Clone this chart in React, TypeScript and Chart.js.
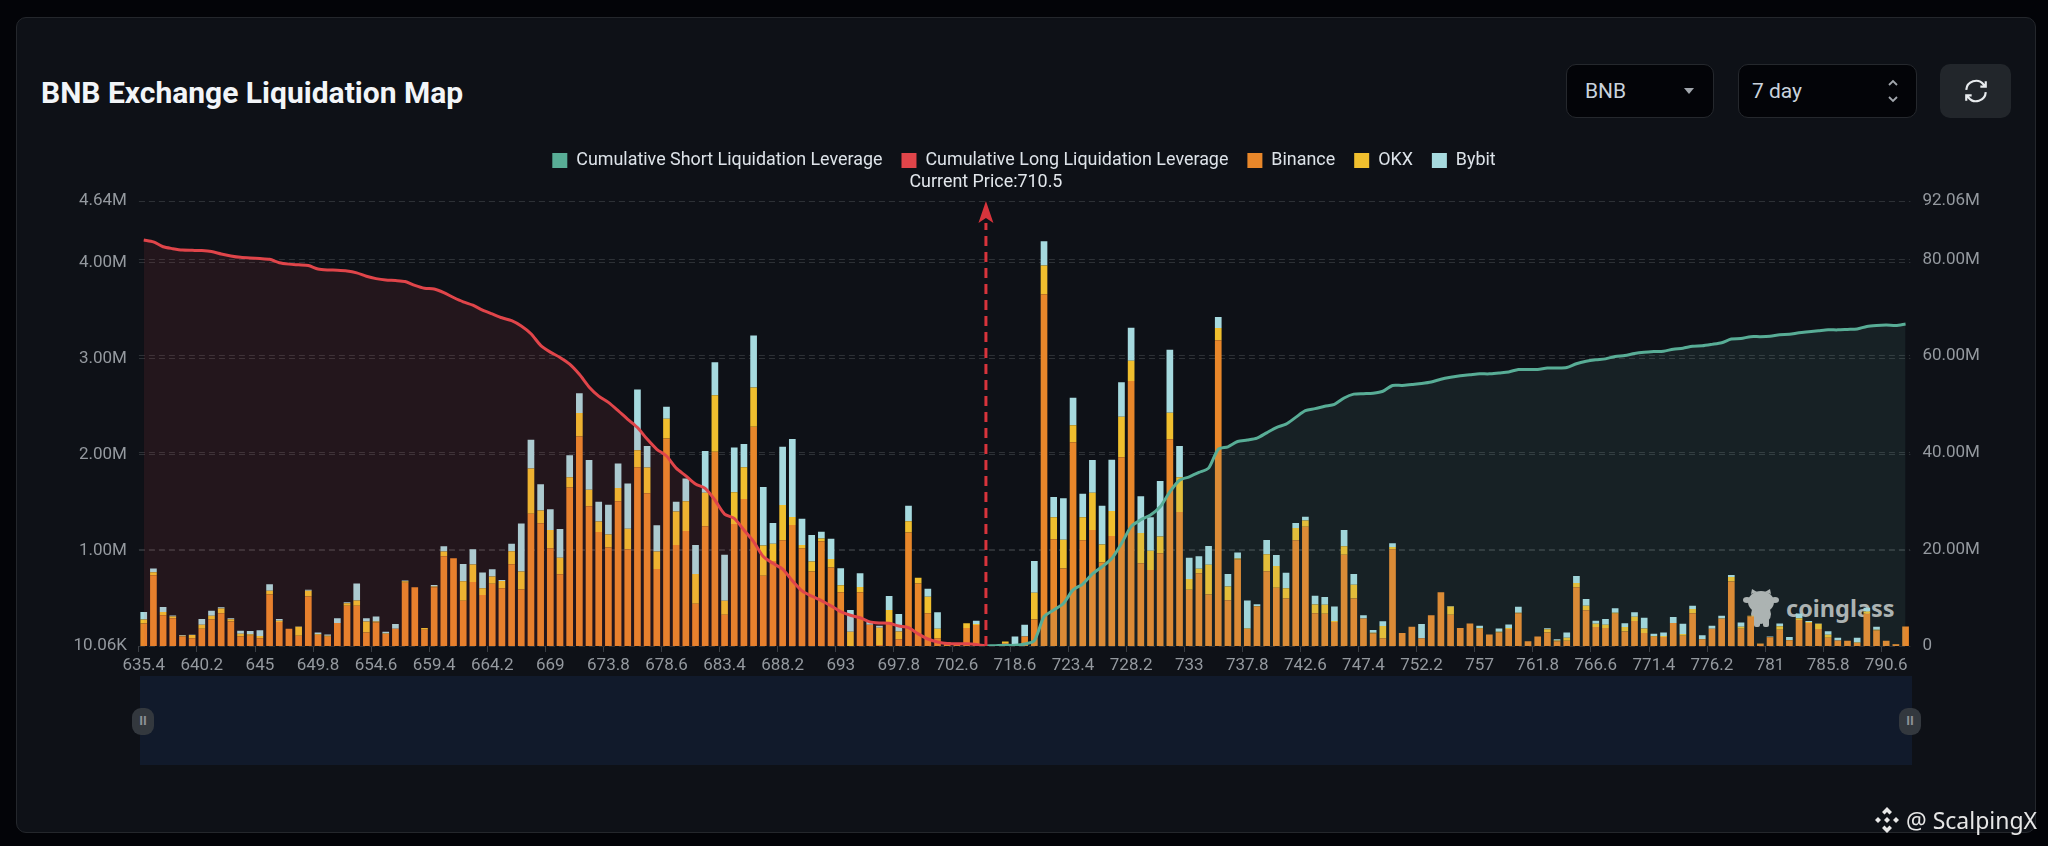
import React, { useEffect, useRef } from 'react';
import { Chart, registerables } from 'chart.js';

Chart.register(...registerables);

// liquidation price levels (one bar per level, the gap is around the current price)
const prices = [
  635.4,636.2,637,637.8,638.6,639.4,640.2,641,641.8,642.6,643.4,644.2,645,645.8,646.6,647.4,648.2,649,649.8,650.6,
  651.4,652.2,653,653.8,654.6,655.4,656.2,657,657.8,658.6,659.4,660.2,661,661.8,662.6,663.4,664.2,665,665.8,666.6,
  667.4,668.2,669,669.8,670.6,671.4,672.2,673,673.8,674.6,675.4,676.2,677,677.8,678.6,679.4,680.2,681,681.8,682.6,
  683.4,684.2,685,685.8,686.6,687.4,688.2,689,689.8,690.6,691.4,692.2,693,693.8,694.6,695.4,696.2,697,697.8,698.6,
  699.4,700.2,701,701.8,702.6,703.4,704.2,710.5,717,717.8,718.6,719.4,720.2,721,721.8,722.6,723.4,724.2,725,725.8,
  726.6,727.4,728.2,729,729.8,730.6,731.4,732.2,733,733.8,734.6,735.4,736.2,737,737.8,738.6,739.4,740.2,741,741.8,
  742.6,743.4,744.2,745,745.8,746.6,747.4,748.2,749,749.8,750.6,751.4,752.2,753,753.8,754.6,755.4,756.2,757,757.8,
  758.6,759.4,760.2,761,761.8,762.6,763.4,764.2,765,765.8,766.6,767.4,768.2,769,769.8,770.6,771.4,772.2,773,773.8,
  774.6,775.4,776.2,777,777.8,778.6,779.4,780.2,781,781.8,782.6,783.4,784.2,785,785.8,786.6,787.4,788.2,789,789.8,
  790.6,791.4,792.2,
];

const currentPrice = 710.5;

// values in millions, heights
const binance = [
  .235,.737,.32,.29,.10,.08,.18,.276,.34,.255,
  .10,.107,.08,.536,.25,.18,.107,.515,.114,.096,
  .24,.418,.418,.14,.245,.124,.18,.657,.61,.17,
  .61,.934,.913,.47,.667,.53,.647,.60,.85,.588,
  1.377,1.276,1.017,.747,1.65,2.18,1.453,1.186,1.024,1.505,
  1.006,1.86,1.59,.80,2.16,1.05,1.197,.44,1.245,2.02,
  .325,1.27,1.53,2.28,.73,.885,1.10,1.26,1.017,.775,
  1.09,.816,.56,0,.56,.22,.01,.25,.07,1.18,
  .65,.34,.08,.02,.01,.186,.218,0,0,.03,
  .02,.10,.276,3.66,1.11,.806,2.12,1.10,1.207,.868,
  1.145,1.965,2.757,.86,.79,.965,2.15,1.394,.584,.757,
  .536,3.18,.477,.90,.176,.41,.778,.605,.494,1.10,
  1.24,.34,.335,.25,.95,.494,.286,.13,.08,1.006,
  .135,.2,.08,.32,.56,.325,.187,.235,.18,.12,
  .14,.176,.34,.05,.10,.14,.05,.055,.61,.373,
  .197,.187,.335,.15,.26,.135,.096,.093,.24,.107,
  .34,.07,.18,.283,.67,.18,.307,.024,.09,.17,
  .06,.27,.24,.176,.086,.058,.055,.03,.335,.16,
  .055,.017,.204,
];

const okx = [
  .04,.03,.035,.017,.007,.035,.04,.04,.05,.024,
  .028,.014,.024,.04,.014,0,.093,.06,.007,.01,
  0,.028,.055,.114,.01,.007,0,.017,0,.017,
  .01,.05,0,.204,.18,.07,.076,.076,.135,.187,
  .47,.135,.19,.17,.107,.245,.173,.11,.135,.138,
  .215,.176,.266,.183,.204,.35,.31,.31,.35,.59,
  .145,.33,.33,.41,.315,.18,.367,.083,.035,.104,
  .028,.09,.073,.149,.055,0,.18,.125,.08,.118,
  .06,.173,.10,.02,0,.05,.01,0,0,.017,
  0,0,.277,.30,.23,.30,.176,.24,.387,.187,
  .26,.42,.21,.315,.20,.173,.277,.363,.114,.048,
  .31,.128,.142,.01,.007,.007,.176,.228,.107,.128,
  .066,.093,.093,.01,.087,.142,0,.007,.128,.024,
  0,0,0,0,0,.087,0,0,.007,0,
  .007,.01,.007,0,0,.035,.007,.03,.045,.045,
  .035,.035,.01,.048,.045,.048,.007,.01,0,.017,
  .045,.003,0,.003,.048,.02,.007,.003,.003,.035,
  .003,.02,.01,.055,.03,0,0,.007,.024,.01,
  0,.003,0,
];

const bybit = [
  .08,.04,.05,.01,.007,.003,.06,.05,.014,.01,
  .03,.035,.06,.066,.017,0,.003,.01,.02,.014,
  .05,.01,.176,.035,.052,.017,.048,.007,0,0,
  .014,.055,0,.18,.16,.166,.076,.01,.08,.50,
  .30,.273,.215,.30,.228,.204,.308,.204,.31,.256,
  .47,.633,.225,.273,.125,.10,.235,.30,.433,.343,
  .48,.464,.242,.54,.61,.215,.605,.81,.273,.277,
  .07,.21,.176,.225,.142,.03,.02,.145,.183,.16,
  0,.083,.17,0,0,0,.035,0,0,0,
  .08,.12,.332,.25,.21,.43,.287,.245,.34,.405,
  .533,.36,.343,.384,.35,.58,.654,.325,.22,.128,
  .194,.114,.13,.062,.29,.017,.15,.114,.16,.052,
  .04,.09,.083,.152,.17,.114,.035,.03,.05,.04,
  0,0,.15,0,0,.003,0,0,.024,0,
  .035,.038,.062,0,0,.01,.014,.055,.073,.07,
  .03,.06,.048,.04,.045,.11,.024,.038,.062,.107,
  .035,.038,.03,.028,.02,.045,0,0,.007,.03,
  .03,.048,.01,.003,.038,.028,0,.048,.04,.03,
  0,0,0,
];

// cumulative long, from the first level down to the current price
const cumulativeLong = [
  84.0,83.6,82.6,82.2,81.9,81.85,81.8,81.6,81.1,80.7,
  80.4,80.25,80.15,80.0,79.3,79.0,78.85,78.7,78.0,77.8,
  77.75,77.6,77.2,76.5,76.0,75.7,75.6,75.4,74.6,74.0,
  73.85,73.1,72.1,71.2,70.5,69.5,68.7,67.9,67.3,66.2,
  64.6,62.2,60.8,59.7,58.3,56.2,53.6,51.7,50.4,48.7,
  46.9,45.2,42.8,40.7,39.3,36.8,35.2,33.5,32.6,30.2,
  27.3,26.4,24.0,21.6,18.5,17.1,15.9,13.5,11.4,10.3,
  9.4,8.3,7.1,6.35,5.85,5.0,4.76,4.7,4.14,3.8,
  2.5,1.45,.83,.5,.48,.46,.3,0,
];

// cumulative short, from the current price up to the last level
const cumulativeShort = [
  0,.07,.14,.14,.4,1.1,6.07,7.45,8.8,11.6,12.8,14.9,16.4,18.1,21.2,24.7,26.1,27.1,28.8,31.9,
  34.3,35,35.9,36.8,40.7,41.2,42.3,42.6,43,44.1,45.2,45.9,47.3,48.7,49.1,49.6,50,51.3,52.1,
  52.2,52.3,52.7,53.9,53.9,54.1,54.3,54.6,55.2,55.6,55.9,56.1,56.3,56.3,56.5,56.7,57.2,57.2,57.2,
  57.5,57.5,57.6,58.4,58.9,59.2,59.4,59.9,60.1,60.5,60.75,60.9,61,61.4,61.6,62,62.1,62.4,62.75,
  63.5,63.6,64,64,64.1,64.4,64.5,64.8,65,65.2,65.4,65.4,65.5,65.6,66.1,66.3,66.4,66.3,66.6,
];

const leftTicks = [0.01006, 1, 2, 3, 4, 4.64];
const leftTickLabels = ['10.06K', '1.00M', '2.00M', '3.00M', '4.00M', '4.64M'];
const rightTicks = [0, 20, 40, 60, 80, 92.06];
const rightTickLabels = ['0', '20.00M', '40.00M', '60.00M', '80.00M', '92.06M'];

const AXIS_FONT = 'Roboto, sans-serif';
const UI_FONT = 'Roboto, "Noto Sans", sans-serif';

const priceIndex = prices.indexOf(currentPrice);

// dashed arrow going up from the current price
const priceMarker = {
  id: 'priceMarker',
  afterDatasetsDraw(chart: Chart) {
    const { ctx, scales } = chart;
    const x = scales.x.getPixelForValue(priceIndex);
    const top = scales.y.top;
    const bottom = scales.y.bottom;
    ctx.save();
    ctx.strokeStyle = '#d8343c';
    ctx.lineWidth = 3;
    ctx.setLineDash([10, 6]);
    ctx.beginPath();
    ctx.moveTo(x, bottom);
    ctx.lineTo(x, top + 22);
    ctx.stroke();
    ctx.setLineDash([]);
    ctx.fillStyle = '#d8343c';
    ctx.beginPath();
    ctx.moveTo(x, top);
    ctx.lineTo(x + 7.5, top + 22);
    ctx.lineTo(x, top + 17);
    ctx.lineTo(x - 7.5, top + 22);
    ctx.closePath();
    ctx.fill();
    ctx.fillStyle = '#e2e7ec';
    ctx.font = `17.9px ${UI_FONT}`;
    ctx.textAlign = 'center';
    ctx.textBaseline = 'middle';
    ctx.fillText(`Current Price:${currentPrice}`, x, top - 18);
    ctx.restore();
  },
};

// the legend sits higher than the plot, so give it a taller box
const legendGap = {
  id: 'legendGap',
  beforeLayout(chart: any) {
    if (chart.legend && !chart.legend.__patched) {
      const fit = chart.legend.fit;
      chart.legend.fit = function () {
        fit.call(this);
        this.height = 68.5;
      };
      chart.legend.__patched = true;
    }
  },
};

const LiquidationChart: React.FC = () => {
  const chartRef = useRef<HTMLCanvasElement>(null);

  useEffect(() => {
    if (!chartRef.current) return;
    const ctx = chartRef.current.getContext('2d');
    if (!ctx) return;

    const gridStyle = {
      color: '#2d3136',
      lineWidth: 1,
      drawTicks: false,
    };

    const chart = new Chart(ctx, {
      type: 'bar',
      data: {
        labels: prices.map(String),
        datasets: [
          {
            type: 'line',
            label: 'Cumulative Short Liquidation Leverage',
            data: prices.map((_, i) => (i < priceIndex ? null : cumulativeShort[i - priceIndex])),
            yAxisID: 'y1',
            borderColor: '#58ad96',
            backgroundColor: 'rgba(104, 173, 165, 0.1)',
            borderWidth: 3,
            pointRadius: 0,
            tension: 0.25,
            fill: 'start',
            order: 0,
          },
          {
            type: 'line',
            label: 'Cumulative Long Liquidation Leverage',
            data: prices.map((_, i) => (i < cumulativeLong.length ? cumulativeLong[i] : null)),
            yAxisID: 'y1',
            borderColor: '#e0454a',
            backgroundColor: 'rgba(224, 69, 74, 0.1)',
            borderWidth: 3,
            pointRadius: 0,
            tension: 0.25,
            fill: 'start',
            order: 0,
          },
          {
            label: 'Binance',
            data: binance.map((v) => v + leftTicks[0]),
            backgroundColor: '#e8872a',
            stack: 'ex',
            order: 1,
          },
          { label: 'OKX', data: okx, backgroundColor: '#f0bf2e', stack: 'ex', order: 1 },
          { label: 'Bybit', data: bybit, backgroundColor: '#a6dadf', stack: 'ex', order: 1 },
        ] as any,
      },
      options: {
        responsive: false,
        animation: false,
        layout: { padding: { left: 48, right: 48, top: 132.5, bottom: 160 } },
        datasets: { bar: { categoryPercentage: 1, barPercentage: 0.69 } },
        plugins: {
          tooltip: { enabled: false },
          legend: {
            position: 'top',
            labels: {
              color: '#dde3e9',
              font: { family: UI_FONT, size: 17.9 },
              boxWidth: 15,
              boxHeight: 15,
              padding: 19,
              generateLabels: (c: Chart) =>
                c.data.datasets.map((d: any, i: number) => ({
                  text: d.label,
                  fillStyle: d.type === 'line' ? d.borderColor : d.backgroundColor,
                  strokeStyle: 'transparent',
                  lineWidth: 0,
                  datasetIndex: i,
                  fontColor: '#dde3e9',
                })),
            },
          },
        },
        scales: {
          x: {
            stacked: true,
            afterFit: (s: any) => {
              s.height = 40;
            },
            border: { display: false },
            grid: {
              drawOnChartArea: false,
              tickLength: 6,
              tickColor: (c: any) => (c.index % 6 === 0 ? '#3a3e44' : 'transparent'),
            },
            ticks: {
              autoSkip: false,
              maxRotation: 0,
              padding: 4,
              color: '#94999f',
              font: { family: AXIS_FONT, size: 17 },
              callback: (_v: any, i: number) => (i % 6 === 0 ? String(prices[i]) : ''),
            },
          },
          y: {
            stacked: true,
            position: 'left',
            min: leftTicks[0],
            max: leftTicks[leftTicks.length - 1],
            afterFit: (s: any) => {
              s.width = 90.9;
            },
            afterBuildTicks: (s: any) => {
              s.ticks = leftTicks.map((value) => ({ value }));
            },
            border: { display: false, dash: [6, 4] },
            grid: gridStyle,
            ticks: {
              padding: 12,
              color: '#94999f',
              font: { family: AXIS_FONT, size: 17 },
              callback: (_v: any, i: number) => leftTickLabels[i],
            },
          },
          y1: {
            position: 'right',
            min: rightTicks[0],
            max: rightTicks[rightTicks.length - 1],
            afterFit: (s: any) => {
              s.width = 89.6;
            },
            afterBuildTicks: (s: any) => {
              s.ticks = rightTicks.map((value) => ({ value }));
            },
            border: { display: false, dash: [6, 4] },
            grid: gridStyle,
            ticks: {
              padding: 12,
              color: '#94999f',
              font: { family: AXIS_FONT, size: 17 },
              callback: (_v: any, i: number) => rightTickLabels[i],
            },
          },
        },
      },
      plugins: [legendGap, priceMarker],
    });

    return () => {
      chart.destroy();
    };
  }, []);

  return <canvas ref={chartRef} width={2048} height={846} style={{ position: 'absolute', left: 0, top: 0 }} />;
};

const box = (left: number, width: number): React.CSSProperties => ({
  position: 'absolute',
  left,
  top: 64,
  width,
  height: 54,
  boxSizing: 'border-box',
  background: '#030408',
  border: '1px solid #25282d',
  borderRadius: 10,
  color: '#c9d3dd',
  font: `21px ${UI_FONT}`,
  lineHeight: '52px',
});

const Handle: React.FC<{ left: number }> = ({ left }) => (
  <div
    style={{
      position: 'absolute',
      left,
      top: 708,
      width: 22,
      height: 27,
      borderRadius: 9,
      background: '#33383e',
      color: '#8b9096',
      font: `bold 13px ${UI_FONT}`,
      lineHeight: '26px',
      textAlign: 'center',
    }}
  >
    II
  </div>
);

export default function App() {
  return (
    <div style={{ position: 'relative', width: 2048, height: 846, background: '#030408', overflow: 'hidden' }}>
      <style>{'body{margin:0;background:#030408}'}</style>
      <div
        style={{
          position: 'absolute',
          left: 16,
          top: 17,
          width: 2020,
          height: 816,
          boxSizing: 'border-box',
          background: '#0e1117',
          border: '1px solid #24272c',
          borderRadius: 10,
        }}
      />
      <div
        style={{
          position: 'absolute',
          left: 41,
          top: 74,
          color: '#f2f5f8',
          font: `bold 30px ${UI_FONT}`,
          lineHeight: '38px',
          whiteSpace: 'nowrap',
        }}
      >
        BNB Exchange Liquidation Map
      </div>

      <div style={box(1566, 148)}>
        <span style={{ marginLeft: 18 }}>BNB</span>
        <svg width="12" height="8" style={{ position: 'absolute', left: 116, top: 23 }}>
          <path d="M1 0 L11 0 L6 6 Z" fill="#a2a7ad" />
        </svg>
      </div>
      <div style={box(1738, 179)}>
        <span style={{ marginLeft: 13 }}>7 day</span>
        <svg width="12" height="26" style={{ position: 'absolute', left: 148, top: 13 }} fill="none" stroke="#a2a7ad" strokeWidth="1.8">
          <path d="M2 7 L6 3 L10 7 M2 19 L6 23 L10 19" />
        </svg>
      </div>
      <div style={{ position: 'absolute', left: 1940, top: 64, width: 71, height: 54, background: '#22262b', borderRadius: 10 }}>
        <svg width="26" height="26" viewBox="0 0 24 24" style={{ position: 'absolute', left: 23, top: 14 }} fill="none" stroke="#e8ebee" strokeWidth="2">
          <path d="M3 11 A9 9 0 0 1 19 6 L21 8 M21 3 V8 H16" />
          <path d="M21 13 A9 9 0 0 1 5 18 L3 16 M3 21 V16 H8" />
        </svg>
      </div>

      {/* watermark goes below the chart canvas */}
      <svg width="40" height="40" viewBox="0 0 40 40" style={{ position: 'absolute', left: 1743, top: 588 }} fill="#b4b4b4">
        <ellipse cx="18" cy="14" rx="13" ry="11" />
        <ellipse cx="18" cy="26" rx="10" ry="10" />
        <ellipse cx="4" cy="12" rx="4" ry="3" />
        <ellipse cx="32" cy="12" rx="4" ry="3" />
        <path d="M8 6 L9 1 L14 4 Z M28 6 L27 1 L22 4 Z" />
        <rect x="11" y="30" width="6" height="9" rx="2" />
        <rect x="20" y="30" width="6" height="9" rx="2" />
      </svg>
      <div
        style={{
          position: 'absolute',
          left: 1786,
          top: 593,
          color: '#b4b4b4',
          font: 'bold 23.5px "Noto Sans", sans-serif',
          lineHeight: '30px',
        }}
      >
        coinglass
      </div>

      <div style={{ position: 'absolute', left: 140, top: 676, width: 1772, height: 89, background: '#111a2b' }} />

      <LiquidationChart />

      <Handle left={132} />
      <Handle left={1899} />

      <svg width="28" height="28" viewBox="0 0 28 28" style={{ position: 'absolute', left: 1873, top: 806 }} fill="#e8e8e8">
        <path d="M14 1 L19 6 L16.5 8.5 L14 6 L11.5 8.5 L9 6 Z" />
        <path d="M14 27 L19 22 L16.5 19.5 L14 22 L11.5 19.5 L9 22 Z" />
        <path d="M14 11 L17 14 L14 17 L11 14 Z" />
        <path d="M5 11 L8 14 L5 17 L2 14 Z" />
        <path d="M23 11 L26 14 L23 17 L20 14 Z" />
      </svg>
      <div
        style={{
          position: 'absolute',
          left: 1906,
          top: 804,
          color: '#e6e6e6',
          font: '23px "Noto Sans", sans-serif',
          lineHeight: '32px',
          whiteSpace: 'nowrap',
        }}
      >
        @ ScalpingX
      </div>
    </div>
  );
}
